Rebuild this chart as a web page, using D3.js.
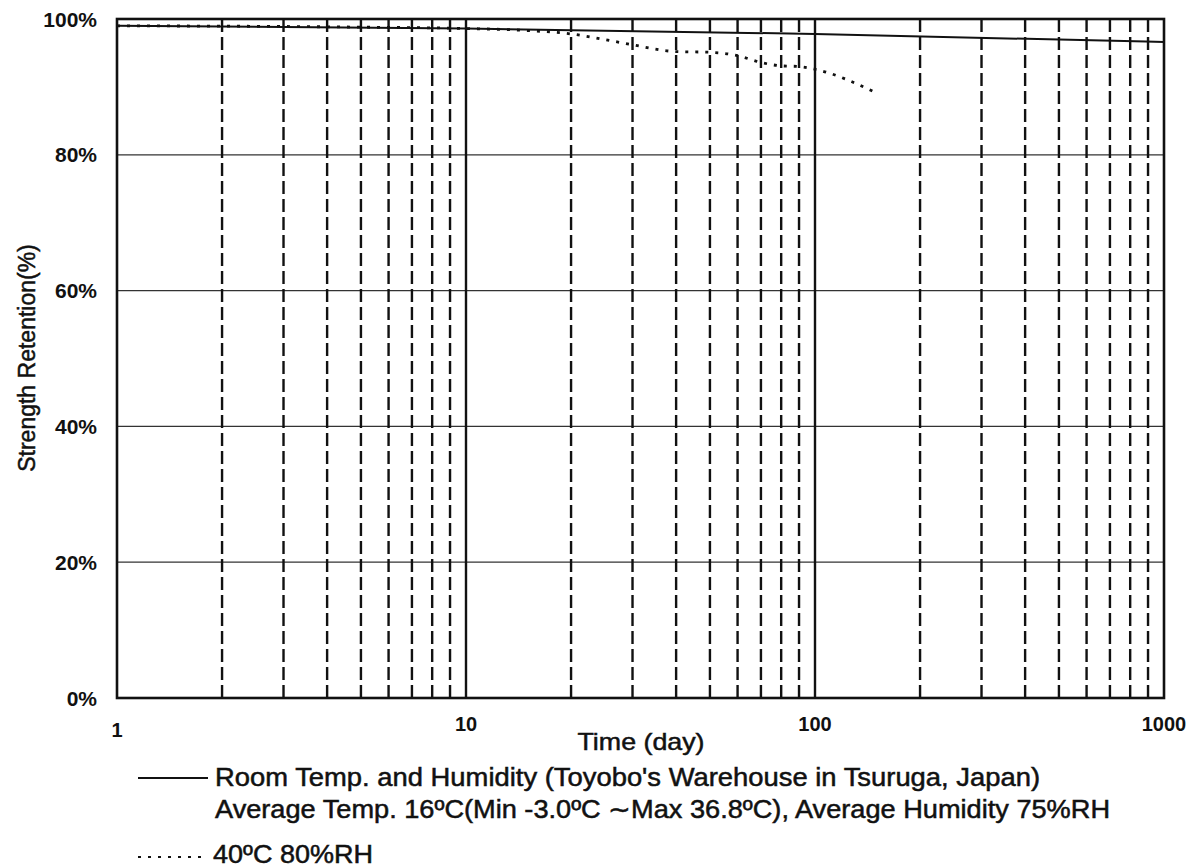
<!DOCTYPE html>
<html>
<head>
<meta charset="utf-8">
<script src="https://cdn.jsdelivr.net/npm/d3@7"></script>
<style>
  body { margin: 0; background: #fff; }
  text { font-family: "Liberation Sans", Arial, sans-serif; fill: #111; }
  .heavy { stroke: #111; stroke-width: 0.5px; }
</style>
</head>
<body>
<script>
// Data
var roomDays = [1, 10, 100, 1000];
var roomRetention = [99.0, 98.6, 97.8, 96.6];

var hotDays = [1, 5, 10, 15, 20, 26, 30, 40, 50, 60, 70, 80, 90, 100, 150];
var hotRetention = [99.0, 98.8, 98.6, 98.3, 97.8, 96.8, 96.2, 95.2, 95.1, 94.6, 93.6, 93.1, 93.0, 92.6, 89.1];

var xTicks = [1, 10, 100, 1000];
var yTicks = [0, 20, 40, 60, 80, 100];

var legendLines = [
    "Room Temp. and Humidity (Toyobo's Warehouse in Tsuruga, Japan)",
    "Average Temp. 16\u00BAC(Min -3.0\u00BAC \u223CMax 36.8\u00BAC), Average Humidity 75%RH",
    "40\u00BAC 80%RH"
];

var width = 1199, height = 867;
// plot frame (don't use "top" as a global name, it's window.top)
var pLeft = 117, pRight = 1164, pTop = 19, pBottom = 698;

var svg = d3.select("body").append("svg")
    .attr("width", width)
    .attr("height", height);

var x = d3.scaleLog().domain([1, 1000]).range([pLeft, pRight]);
var y = d3.scaleLinear().domain([0, 100]).range([pBottom, pTop]);

// horizontal gridlines
svg.selectAll(".hgrid")
    .data(yTicks.filter(function(d){ return d > 0 && d < 100; }))
    .enter().append("line")
    .attr("class", "hgrid")
    .attr("x1", pLeft).attr("x2", pRight)
    .attr("y1", function(d){ return y(d); })
    .attr("y2", function(d){ return y(d); })
    .attr("stroke", "#333")
    .attr("stroke-width", 1.3);

// vertical gridlines: minor (dashed) and decades (solid)
var minor = [];
[1, 10, 100].forEach(function(dec){
    for (var i = 2; i <= 9; i++) minor.push(dec * i);
});
svg.selectAll(".vminor")
    .data(minor)
    .enter().append("line")
    .attr("class", "vminor")
    .attr("x1", function(d){ return x(d); })
    .attr("x2", function(d){ return x(d); })
    .attr("y1", pTop).attr("y2", pBottom)
    .attr("stroke", "#111")
    .attr("stroke-width", 2.4)
    .attr("stroke-dasharray", "13,5");

svg.selectAll(".vmajor")
    .data([10, 100])
    .enter().append("line")
    .attr("class", "vmajor")
    .attr("x1", function(d){ return x(d); })
    .attr("x2", function(d){ return x(d); })
    .attr("y1", pTop).attr("y2", pBottom)
    .attr("stroke", "#111")
    .attr("stroke-width", 2.4);

// frame
svg.append("rect")
    .attr("x", pLeft).attr("y", pTop)
    .attr("width", pRight - pLeft).attr("height", pBottom - pTop)
    .attr("fill", "none")
    .attr("stroke", "#111")
    .attr("stroke-width", 2.6);

var line = d3.line()
    .x(function(d){ return x(d[0]); })
    .y(function(d){ return y(d[1]); })
    .curve(d3.curveMonotoneX);

svg.append("path")
    .datum(d3.zip(roomDays, roomRetention))
    .attr("d", line)
    .attr("fill", "none")
    .attr("stroke", "#111")
    .attr("stroke-width", 2);

svg.append("path")
    .datum(d3.zip(hotDays, hotRetention))
    .attr("d", line)
    .attr("fill", "none")
    .attr("stroke", "#111")
    .attr("stroke-width", 2.8)
    .attr("stroke-dasharray", "3,7");

// y tick labels
svg.selectAll(".ylab")
    .data(yTicks)
    .enter().append("text")
    .attr("x", 97)
    .attr("y", function(d){ return y(d) + 7.5; })
    .attr("text-anchor", "end")
    .attr("font-size", 21)
    .attr("font-weight", "bold")
    .text(function(d){ return d + "%"; });

// x tick labels
svg.selectAll(".xlab")
    .data(xTicks)
    .enter().append("text")
    .attr("x", function(d){ return x(d); })
    .attr("y", function(d){ return d === 1 ? 737 : 731; })
    .attr("text-anchor", "middle")
    .attr("font-size", 20)
    .attr("font-weight", "bold")
    .text(function(d){ return d; });

// axis titles
svg.append("text")
    .attr("class", "heavy")
    .attr("x", 641).attr("y", 750)
    .attr("text-anchor", "middle")
    .attr("font-size", 24)
    .attr("textLength", 127)
    .attr("lengthAdjust", "spacingAndGlyphs")
    .text("Time (day)");

svg.append("text")
    .attr("class", "heavy")
    .attr("transform", "translate(35,358) rotate(-90)")
    .attr("text-anchor", "middle")
    .attr("font-size", 23)
    .text("Strength Retention(%)");

// legend
svg.append("line")
    .attr("x1", 138).attr("x2", 208)
    .attr("y1", 778).attr("y2", 778)
    .attr("stroke", "#111").attr("stroke-width", 2);
svg.append("text")
    .attr("class", "heavy")
    .attr("x", 215).attr("y", 786)
    .attr("font-size", 25)
    .attr("textLength", 825)
    .attr("lengthAdjust", "spacingAndGlyphs")
    .text(legendLines[0]);
svg.append("text")
    .attr("class", "heavy")
    .attr("x", 215).attr("y", 818)
    .attr("font-size", 25)
    .attr("textLength", 895)
    .attr("lengthAdjust", "spacingAndGlyphs")
    .text(legendLines[1]);
svg.append("line")
    .attr("x1", 138).attr("x2", 208)
    .attr("y1", 857).attr("y2", 857)
    .attr("stroke", "#111").attr("stroke-width", 2)
    .attr("stroke-dasharray", "3,7");
svg.append("text")
    .attr("class", "heavy")
    .attr("x", 213).attr("y", 863)
    .attr("font-size", 25)
    .attr("textLength", 160)
    .attr("lengthAdjust", "spacingAndGlyphs")
    .text(legendLines[2]);
</script>
</body>
</html>
